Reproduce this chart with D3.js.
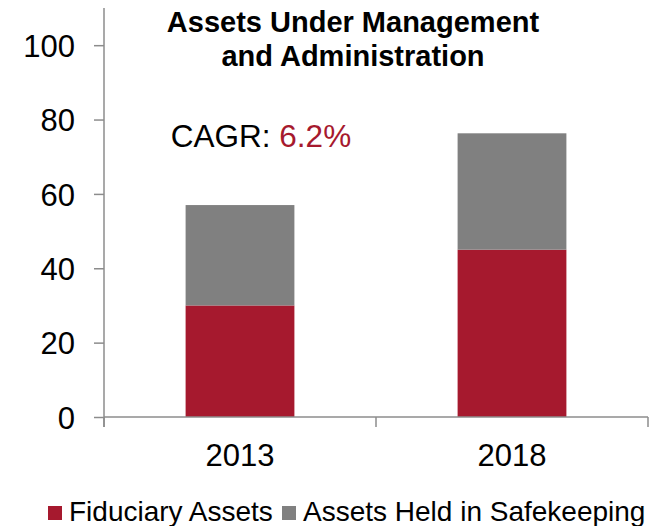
<!DOCTYPE html>
<html>
<head>
<meta charset="utf-8">
<script src="https://cdn.jsdelivr.net/npm/d3@7"></script>
<style>
  body { margin: 0; background: #fff; }
  svg { display: block; font-family: "Liberation Sans", Arial, sans-serif; }
</style>
</head>
<body>
<div id="chart"></div>
<script>
const width = 654;
const height = 526;

// data
const years = ['2013', '2018'];
const fiduciary = [30, 45];
const safekeeping = [27, 31.3];
const seriesNames = ['Fiduciary Assets', 'Assets Held in Safekeeping'];
const seriesColors = ['#A6192E', '#808080'];
const yTicks = [0, 20, 40, 60, 80, 100];

const svg = d3.select('#chart').append('svg')
    .attr('width', width)
    .attr('height', height);

const x = d3.scaleBand()
    .domain(years)
    .range([104, 648])
    .paddingInner(0.6)
    .paddingOuter(0.3);

const y = d3.scaleLinear()
    .domain([0, 110])
    .range([417, 8]);

// stack the two series
const rows = years.map((yr, i) => ({ year: yr, fid: fiduciary[i], safe: safekeeping[i] }));
const stacked = d3.stack().keys(['fid', 'safe'])(rows);

svg.append('g').selectAll('g')
    .data(stacked)
    .enter()
    .append('g')
    .attr('fill', (d, i) => seriesColors[i])
    .selectAll('rect')
    .data(d => d)
    .enter()
    .append('rect')
    .attr('x', d => x(d.data.year))
    .attr('width', x.bandwidth())
    .attr('y', d => y(d[1]))
    .attr('height', d => y(d[0]) - y(d[1]));

// y axis
const yAxis = svg.append('g')
    .attr('transform', 'translate(104,0)')
    .call(d3.axisLeft(y).tickValues(yTicks).tickSize(10).tickPadding(19));
yAxis.select('.domain').remove();
yAxis.append('line')
    .attr('x1', 0).attr('x2', 0)
    .attr('y1', y(110)).attr('y2', 427)
    .attr('stroke', '#8c8c8c').attr('stroke-width', 1.5);
yAxis.selectAll('.tick line').attr('stroke', '#8c8c8c').attr('stroke-width', 1.5);
yAxis.selectAll('.tick text')
    .attr('font-size', 31)
    .attr('font-family', '"Liberation Sans", Arial, sans-serif')
    .attr('fill', '#000')
    .attr('dy', '0.36em');

// x axis with ticks at category boundaries
const xAxis = svg.append('g').attr('transform', 'translate(0,417)');
xAxis.append('line')
    .attr('x1', 104).attr('x2', 648)
    .attr('stroke', '#8c8c8c').attr('stroke-width', 1.5);
const step = x.step();
const bounds = [x.range()[0], x.range()[0] + step, x.range()[0] + 2 * step];
xAxis.selectAll('line.sep')
    .data(bounds)
    .enter()
    .append('line')
    .attr('class', 'sep')
    .attr('x1', d => d).attr('x2', d => d)
    .attr('y1', 0).attr('y2', 10)
    .attr('stroke', '#8c8c8c').attr('stroke-width', 1.5);
xAxis.selectAll('text')
    .data(years)
    .enter()
    .append('text')
    .attr('x', d => x(d) + x.bandwidth() / 2)
    .attr('y', 49)
    .attr('text-anchor', 'middle')
    .attr('font-size', 31)
    .attr('fill', '#000')
    .text(d => d);

// title
const title = svg.append('text')
    .attr('text-anchor', 'middle')
    .attr('font-size', 29)
    .attr('font-weight', 'bold')
    .attr('fill', '#000');
title.append('tspan').attr('x', 353).attr('y', 32).text('Assets Under Management');
title.append('tspan').attr('x', 353).attr('y', 66).text('and Administration');

// CAGR label
const cagr = svg.append('text')
    .attr('x', 261)
    .attr('y', 147)
    .attr('text-anchor', 'middle')
    .attr('font-size', 31.5)
    .attr('fill', '#000');
cagr.append('tspan').text('CAGR: ');
cagr.append('tspan').attr('fill', '#A6192E').text('6.2%');

// legend
const legendX = [48, 282];
const legend = svg.append('g').selectAll('g')
    .data(seriesNames)
    .enter()
    .append('g')
    .attr('transform', (d, i) => `translate(${legendX[i]},506)`);
legend.append('rect')
    .attr('width', 14)
    .attr('height', 14)
    .attr('fill', (d, i) => seriesColors[i]);
legend.append('text')
    .attr('x', 21)
    .attr('y', 15)
    .attr('font-size', 28)
    .attr('fill', '#000')
    .text(d => d);
</script>
</body>
</html>
